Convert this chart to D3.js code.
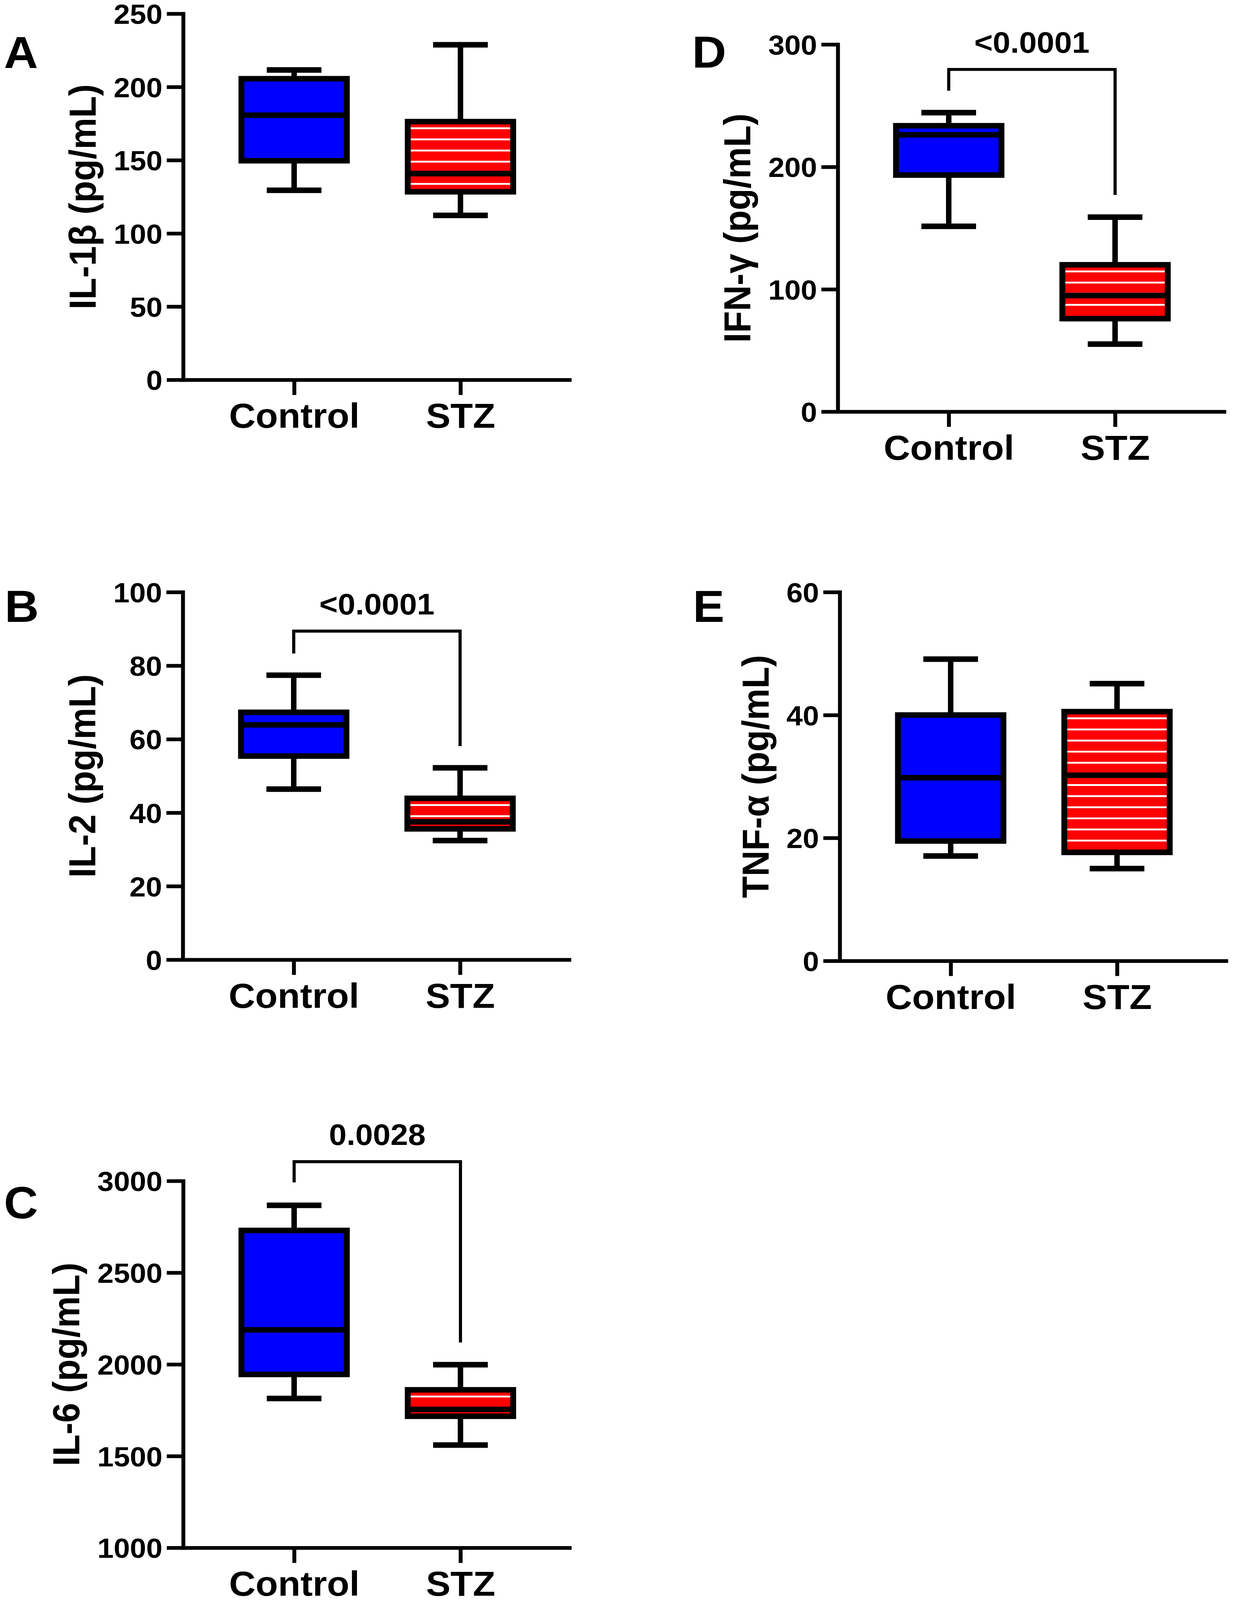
<!DOCTYPE html>
<html>
<head>
<meta charset="utf-8">
<script src="https://cdn.jsdelivr.net/npm/d3@7"></script>
<style>
  html, body { margin: 0; padding: 0; background: #fff; overflow: hidden; }
  #fig { display: block; width: 100vw; height: 100vh; }
  svg text { font-family: 'Liberation Sans', Arial, sans-serif; font-weight: bold; fill: #000; }
</style>
</head>
<body>
<svg id="fig" viewBox="0 0 3162 4318" preserveAspectRatio="none"></svg>
<script>
// groups on the x axis
const groups = ['Control', 'STZ']

// box values: [min, q1, median, q3, max]
const il1bControl = [129.4, 149.6, 180.7, 205.6, 211.6]
const il1bStz = [112.3, 128.4, 140.8, 176.3, 228.8]
const il2Control = [46.4, 55.4, 63.9, 67.3, 77.4]
const il2Stz = [32.4, 35.6, 37.5, 43.9, 52.2]
const il6Control = [1814, 1945, 2188, 2730, 2867]
const il6Stz = [1560, 1717, 1754, 1861, 1998]
const ifngControl = [151.4, 193.3, 226.2, 233.6, 244.3]
const ifngStz = [55.2, 76, 94.9, 120, 158.9]
const tnfaControl = [17.05, 19.5, 29.8, 40.0, 49.1]
const tnfaStz = [15.0, 17.65, 30.2, 40.55, 45.1]

// tick labels
const il1bTicks = [0, 50, 100, 150, 200, 250]
const il2Ticks = [0, 20, 40, 60, 80, 100]
const il6Ticks = [1000, 1500, 2000, 2500, 3000]
const ifngTicks = [0, 100, 200, 300]
const tnfaTicks = [0, 20, 40, 60]

// significance brackets: [bar level, left end, right end]
const il2Bracket = [89.4, 83.3, 58.1]
const il6Bracket = [3105, 2992, 2119]
const ifngBracket = [279.6, 262.2, 177.1]
const il2P = '<0.0001'
const il6P = '0.0028'
const ifngP = '<0.0001'

const BLUE = '#0000ff'
const RED = '#ff0000'

const panels = [
    { letter: 'A', title: 'IL-1β (pg/mL)', ticks: il1bTicks, boxes: [il1bControl, il1bStz],
      ax: 469, top: 37, bottom: 1025, lx: 10, ly: 183 },
    { letter: 'B', title: 'IL-2 (pg/mL)', ticks: il2Ticks, boxes: [il2Control, il2Stz],
      bracket: il2Bracket, p: il2P, ax: 468, top: 1598, bottom: 2590, lx: 12, ly: 1678 },
    { letter: 'C', title: 'IL-6 (pg/mL)', ticks: il6Ticks, boxes: [il6Control, il6Stz],
      bracket: il6Bracket, p: il6P, ax: 469, top: 3187, bottom: 4177, lx: 10, ly: 3288 },
    { letter: 'D', title: 'IFN-γ (pg/mL)', ticks: ifngTicks, boxes: [ifngControl, ifngStz],
      bracket: ifngBracket, p: ifngP, ax: 2145, top: 120, bottom: 1111, lx: 1772, ly: 182 },
    { letter: 'E', title: 'TNF-α (pg/mL)', ticks: tnfaTicks, boxes: [tnfaControl, tnfaStz],
      ax: 2150, top: 1598, bottom: 2593, lx: 1774, ly: 1678 },
]

const svg = d3.select('#fig')

const BOX_W = 270, CAP_W = 140, STROKE = 15

panels.forEach(drawPanel)

function drawPanel(p) {
    const g = svg.append('g')

    const y = d3.scaleLinear()
        .domain(d3.extent(p.ticks))
        .range([p.bottom, p.top])
    const x = d3.scalePoint()
        .domain(groups)
        .range([p.ax, p.ax + 994])
        .padding(0.667)

    // y axis
    const yAxis = g.append('g')
        .attr('transform', `translate(${p.ax},0)`)
        .call(d3.axisLeft(y)
            .tickValues(p.ticks)
            .tickFormat(d3.format('d'))
            .tickSize(42).tickSizeOuter(0).tickPadding(11))
    yAxis.selectAll('path, line').attr('stroke', '#000').attr('stroke-width', 10)
    yAxis.select('.domain').attr('stroke-linecap', 'square')
    yAxis.selectAll('text').attr('font-size', 75).attr('dy', '0.36em')

    // x axis
    const xAxis = g.append('g')
        .attr('transform', `translate(0,${p.bottom})`)
        .call(d3.axisBottom(x).tickSize(41).tickSizeOuter(0).tickPadding(22))
    xAxis.selectAll('path, line').attr('stroke', '#000').attr('stroke-width', 10)
    xAxis.selectAll('text').attr('font-size', 94)
    yAxis.attr('font-family', null).attr('font-size', null)
    xAxis.attr('font-family', null).attr('font-size', null)

    // y title, placed left of the widest tick label
    let maxW = 0
    yAxis.selectAll('text').each(function () {
        maxW = Math.max(maxW, this.getBBox().width)
    })
    const tx = p.ax - 53 - maxW - 46
    g.append('text')
        .attr('transform', `translate(${tx},${(p.top + p.bottom) / 2}) rotate(-90)`)
        .attr('text-anchor', 'middle')
        .attr('font-size', 96)
        .text(p.title)

    // panel letter
    g.append('text')
        .attr('x', p.lx)
        .attr('y', p.ly)
        .attr('font-size', 121)
        .text(p.letter)

    // boxes
    p.boxes.forEach((v, i) => {
        const [min, q1, med, q3, max] = v
        const cx = x(groups[i])
        const b = g.append('g')

        // whiskers
        b.append('line')
            .attr('x1', cx).attr('x2', cx)
            .attr('y1', y(max)).attr('y2', y(min))
            .attr('stroke', '#000').attr('stroke-width', 14)
        ;[min, max].forEach(w => {
            b.append('line')
                .attr('x1', cx - CAP_W / 2).attr('x2', cx + CAP_W / 2)
                .attr('y1', y(w)).attr('y2', y(w))
                .attr('stroke', '#000').attr('stroke-width', STROKE)
        })

        const yTop = y(q3), yBot = y(q1)
        b.append('rect')
            .attr('x', cx - BOX_W / 2).attr('y', yTop)
            .attr('width', BOX_W).attr('height', yBot - yTop)
            .attr('fill', i === 0 ? BLUE : RED)

        // white horizontal stripes in the STZ box
        if (i === 1) {
            const inner = yBot - STROKE / 2 - 3
            b.selectAll('line.stripe')
                .data(d3.range(yTop + 18, inner, 30))
                .join('line')
                .attr('class', 'stripe')
                .attr('x1', cx - BOX_W / 2 + STROKE / 2).attr('x2', cx + BOX_W / 2 - STROKE / 2)
                .attr('y1', d => d).attr('y2', d => d)
                .attr('stroke', '#fff').attr('stroke-width', 5)
        }

        b.append('rect')
            .attr('x', cx - BOX_W / 2).attr('y', yTop)
            .attr('width', BOX_W).attr('height', yBot - yTop)
            .attr('fill', 'none')
            .attr('stroke', '#000').attr('stroke-width', STROKE)

        b.append('line')
            .attr('x1', cx - BOX_W / 2).attr('x2', cx + BOX_W / 2)
            .attr('y1', y(med)).attr('y2', y(med))
            .attr('stroke', '#000').attr('stroke-width', STROKE)
    })

    // significance bracket
    if (p.bracket) {
        const [lvl, leftEnd, rightEnd] = p.bracket
        const x0 = x(groups[0]), x1 = x(groups[1])
        const path = d3.path()
        path.moveTo(x0, y(leftEnd))
        path.lineTo(x0, y(lvl))
        path.lineTo(x1, y(lvl))
        path.lineTo(x1, y(rightEnd))
        g.append('path')
            .attr('d', path.toString())
            .attr('fill', 'none')
            .attr('stroke', '#000')
            .attr('stroke-width', 8)
        g.append('text')
            .attr('x', (x0 + x1) / 2)
            .attr('y', y(lvl) - 45)
            .attr('text-anchor', 'middle')
            .attr('font-size', 81)
            .text(p.p)
    }
}
</script>
</body>
</html>
